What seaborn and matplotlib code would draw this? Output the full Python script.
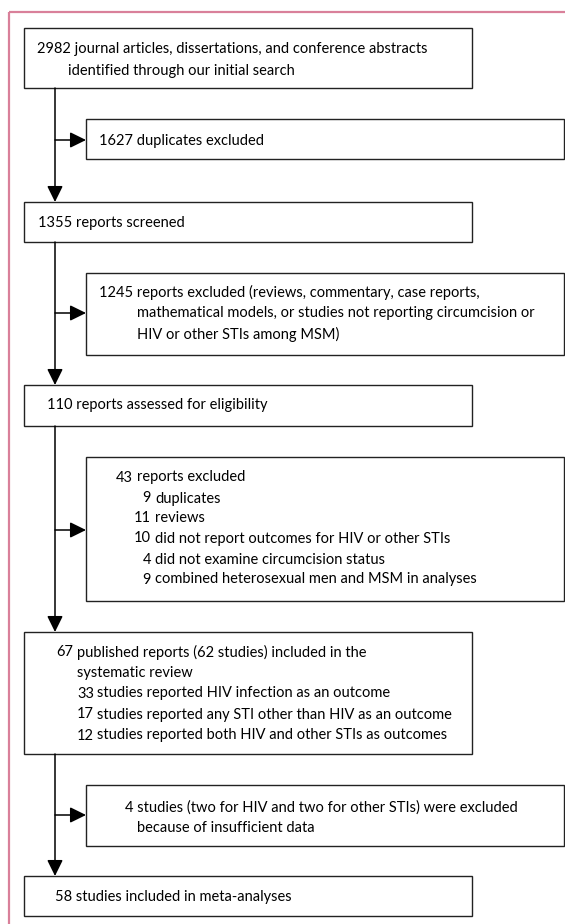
import matplotlib
matplotlib.use("Agg")
import matplotlib.pyplot as plt
import seaborn as sns
from matplotlib.patches import Rectangle

sns.set_theme(style="white")
plt.rcParams["font.family"] = ["Lato", "DejaVu Sans"]

# flow chart content: main-column boxes and side (exclusion) boxes
identified = ["2982 journal articles, dissertations, and conference abstracts",
              "identified through our initial search"]
duplicates = ["1627 duplicates excluded"]
screened = ["1355 reports screened"]
excluded_screen = ["1245 reports excluded (reviews, commentary, case reports,",
                   "mathematical models, or studies not reporting circumcision or",
                   "HIV or other STIs among MSM)"]
assessed = ["110 reports assessed for eligibility"]
excluded_full = [("43", "reports excluded"),
                 ("9", "duplicates"),
                 ("11", "reviews"),
                 ("10", "did not report outcomes for HIV or other STIs"),
                 ("4", "did not examine circumcision status"),
                 ("9", "combined heterosexual men and MSM in analyses")]
included_review = [("67", "published reports (62 studies) included in the"),
                   ("", "systematic review"),
                   ("33", "studies reported HIV infection as an outcome"),
                   ("17", "studies reported any STI other than HIV as an outcome"),
                   ("12", "studies reported both HIV and other STIs as outcomes")]
excluded_data = ["4 studies (two for HIV and two for other STIs) were excluded",
                 "because of insufficient data"]
meta = ["58 studies included in meta-analyses"]

# layout in pixels
MAIN_L, MAIN_R = 24, 472
SIDE_L, SIDE_R = 86, 564
SPINE_X = 55
EDGE = "#222222"
PINK = "#d9809a"
INK = "#000000"
FS = 10.5
BASE = 4.5  # baseline offset from visual line centre

fig = plt.figure(figsize=(5.65, 9.24), dpi=100)
ax = fig.add_axes([0, 0, 1, 1])
ax.set_xlim(0, 565)
ax.set_ylim(924, 0)
ax.axis("off")

# outer pink frame (top and left)
ax.plot([9, 565], [12, 12], color=PINK, lw=1.6, solid_capstyle="butt")
ax.plot([9, 9], [12, 924], color=PINK, lw=1.6, solid_capstyle="butt")


def box(x0, y0, x1, y1):
    ax.add_patch(Rectangle((x0, y0), x1 - x0, y1 - y0, fill=False,
                           ec=EDGE, lw=1.0))


def lines(items, xs, ys):
    for txt, x, y in zip(items, xs, ys):
        ax.text(x, y + BASE, txt, fontsize=FS, ha="left", va="baseline", color=INK)


def numbered(items, num_r, txt_x, ys):
    for (num, txt), nr, tx, y in zip(items, num_r, txt_x, ys):
        if num:
            ax.text(nr, y + BASE, num, fontsize=FS, ha="right", va="baseline", color=INK)
        ax.text(tx, y + BASE, txt, fontsize=FS, ha="left", va="baseline", color=INK)


def arrow(x0, y0, x1, y1):
    ax.annotate("", xy=(x1, y1), xytext=(x0, y0),
                arrowprops=dict(arrowstyle="-|>,head_length=0.65,head_width=0.32",
                                color="#000000", lw=1.1, mutation_scale=15,
                                shrinkA=0, shrinkB=0))


# main column
box(MAIN_L, 28, MAIN_R, 88)
lines(identified, [37, 68], [49, 70])

box(MAIN_L, 202, MAIN_R, 242)
lines(screened, [38], [222])

box(MAIN_L, 385, MAIN_R, 426)
lines(assessed, [47], [405])

box(MAIN_L, 632, MAIN_R, 754)
numbered(included_review, [73, 0, 94, 94, 94], [77, 77, 97, 97, 97],
         [652, 672, 693, 714, 735])

box(MAIN_L, 876, MAIN_R, 916)
lines(meta, [55], [896])

# side boxes
box(SIDE_L, 119, SIDE_R, 159)
lines(duplicates, [99], [140])

box(SIDE_L, 273, SIDE_R, 355)
lines(excluded_screen, [99, 137, 137], [293, 313, 335])

box(SIDE_L, 457, SIDE_R, 601)
numbered(excluded_full, [133, 151, 151, 151, 151, 151],
         [137, 155, 155, 155, 155, 155],
         [477, 498, 518, 538, 559, 579])

box(SIDE_L, 785, SIDE_R, 846)
lines(excluded_data, [125, 137], [807, 827])

# connectors
for top, bottom in [(88, 202), (242, 385), (426, 632), (754, 876)]:
    arrow(SPINE_X, top, SPINE_X, bottom)
for y in [140, 313, 530, 815]:
    arrow(SPINE_X, y, SIDE_L, y)

fig.savefig("out.png", dpi=100)
